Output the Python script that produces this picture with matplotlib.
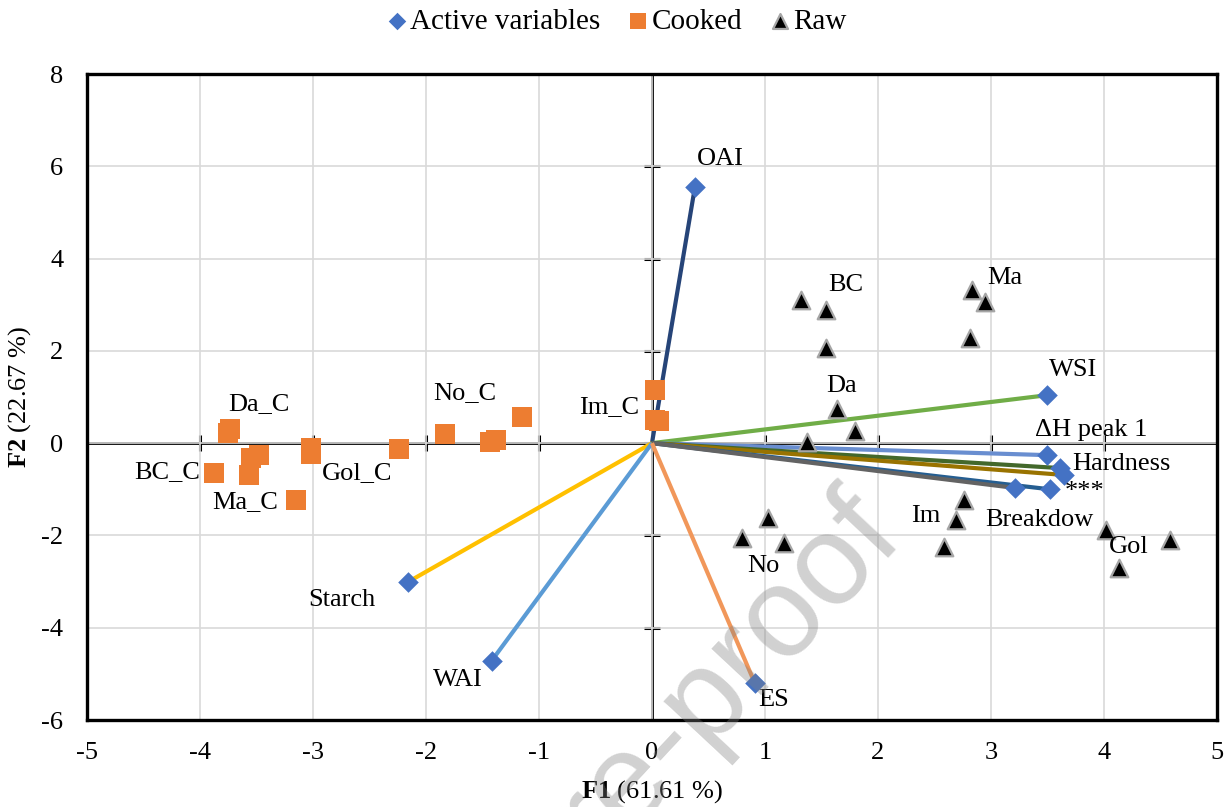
import matplotlib
matplotlib.use("Agg")
import matplotlib.pyplot as plt
import numpy as np

plt.rcParams['font.family'] = ['Liberation Serif', 'DejaVu Serif']
plt.rcParams['mathtext.fontset'] = 'custom'
plt.rcParams['mathtext.bf'] = 'Liberation Serif:bold'
plt.rcParams['mathtext.rm'] = 'Liberation Serif'
plt.rcParams['axes.unicode_minus'] = False

# Active variables (loadings, scaled)
var_names = ["OAI", "WSI", "ΔH peak 1", "Hardness_a", "Hardness_b", "***", "Breakdow", "Starch", "WAI", "ES"]
var_x = [0.38, 3.50, 3.50, 3.61, 3.65, 3.52, 3.21, -2.16, -1.42, 0.91]
var_y = [5.55, 1.04, -0.26, -0.54, -0.69, -1.00, -0.97, -3.01, -4.72, -5.20]
var_colors = ["#264478", "#70AD47", "#698ED0", "#43682B", "#997300", "#255E91", "#636363", "#FFC000", "#5B9BD5", "#F1975A"]

# Cooked samples
cooked_x = [-3.75, -3.73, -3.88, -3.48, -3.55, -3.57, -3.15, -3.02, -3.02, -2.24, -1.83, -1.43, -1.38, -1.15, 0.03, 0.03, 0.06]
cooked_y = [0.22, 0.31, -0.65, -0.26, -0.33, -0.68, -1.24, -0.10, -0.24, -0.12, 0.20, 0.03, 0.06, 0.57, 1.15, 0.50, 0.48]

# Raw samples
raw_x = [1.32, 1.54, 1.54, 2.83, 2.95, 2.81, 1.64, 1.80, 1.37, 2.76, 2.69, 2.58, 1.03, 0.80, 1.17, 4.02, 4.13, 4.58]
raw_y = [3.10, 2.88, 2.06, 3.32, 3.06, 2.28, 0.74, 0.27, 0.03, -1.24, -1.67, -2.25, -1.62, -2.06, -2.17, -1.89, -2.71, -2.10]

# Labels
labels = [
    ("OAI", 0.40, 6.15, "left"), ("WSI", 3.51, 1.58, "left"), ("ΔH peak 1", 3.39, 0.28, "left"),
    ("Hardness", 3.72, -0.46, "left"), ("***", 3.65, -1.06, "left"), ("Breakdow", 2.95, -1.67, "left"),
    ("Starch", -2.45, -3.40, "right"), ("WAI", -1.50, -5.14, "right"), ("ES", 0.94, -5.57, "left"),
    ("Im_C", -0.11, 0.78, "right"), ("Da_C", -3.75, 0.85, "left"), ("BC_C", -4.00, -0.63, "right"),
    ("Ma_C", -3.31, -1.28, "right"), ("Gol_C", -2.92, -0.65, "left"), ("No_C", -1.94, 1.08, "left"),
    ("BC", 1.56, 3.42, "left"), ("Ma", 2.97, 3.58, "left"), ("Da", 1.54, 1.24, "left"),
    ("Im", 2.55, -1.58, "right"), ("No", 0.84, -2.67, "left"), ("Gol", 4.04, -2.25, "left"),
]

x_ticks = list(range(-5, 6))
y_ticks = list(range(-6, 9, 2))

fig = plt.figure(figsize=(12.32, 8.07), dpi=100)
ax = fig.add_axes([0.0706, 0.1078, 0.9172, 0.8005])
ax.set_xlim(-5, 5)
ax.set_ylim(-6, 8)
ax.set_xticks(x_ticks)
ax.set_yticks(y_ticks)
ax.grid(True, color="#d9d9d9", linewidth=1.2, zorder=0)
ax.tick_params(length=0, labelsize=19)
ax.tick_params(axis="x", pad=16)
ax.tick_params(axis="y", pad=17)
for s in ax.spines.values():
    s.set_linewidth(2.4)
    s.set_color("black")

ax.axhline(0, color="black", lw=2, zorder=1)
ax.axvline(0, color="black", lw=2, zorder=1)
ax.plot(x_ticks[1:-1], [0] * (len(x_ticks) - 2), ls="none", marker="|", ms=12, mew=2.2, color="black", zorder=1.5)
ax.plot([0] * (len(y_ticks) - 2), y_ticks[1:-1], ls="none", marker="_", ms=12, mew=2.2, color="black", zorder=1.5)

for vx, vy, c in zip(var_x, var_y, var_colors):
    ax.plot([0, vx], [0, vy], color=c, lw=3, zorder=2, solid_capstyle="butt")
ax.scatter(var_x, var_y, marker="D", s=110, color="#4472C4", zorder=4, label="Active variables", linewidths=0)
ax.scatter(cooked_x, cooked_y, marker="s", s=200, color="#ED7D31", zorder=3, label="Cooked", linewidths=0)
ax.scatter(raw_x, raw_y, marker="^", s=160, color="black", edgecolors="#a6a6a6", linewidths=1.6, zorder=3, label="Raw")

for t, x, y, ha in labels:
    ax.text(x, y, t, ha=ha, va="center", fontsize=19, zorder=5)

ax.set_xlabel(r"$\mathbf{F1}$ (61.61 %)", fontsize=19, labelpad=10)
ax.set_ylabel(r"$\mathbf{F2}$ (22.67 %)", fontsize=19, labelpad=6)

leg = fig.legend(loc="center", bbox_to_anchor=(0.5, 0.973), ncol=3, frameon=False, fontsize=21,
                 handletextpad=0.05, columnspacing=0.9, markerscale=0.85, handlelength=0.8,
                 borderaxespad=0)

fig.text(0.735, 0.330, "Journal Pre-proof", fontsize=92, color="#808080", alpha=0.36,
         family="Liberation Sans", rotation=47, ha="right", va="baseline",
         rotation_mode="anchor", zorder=10)

fig.savefig("out.png", dpi=100)
